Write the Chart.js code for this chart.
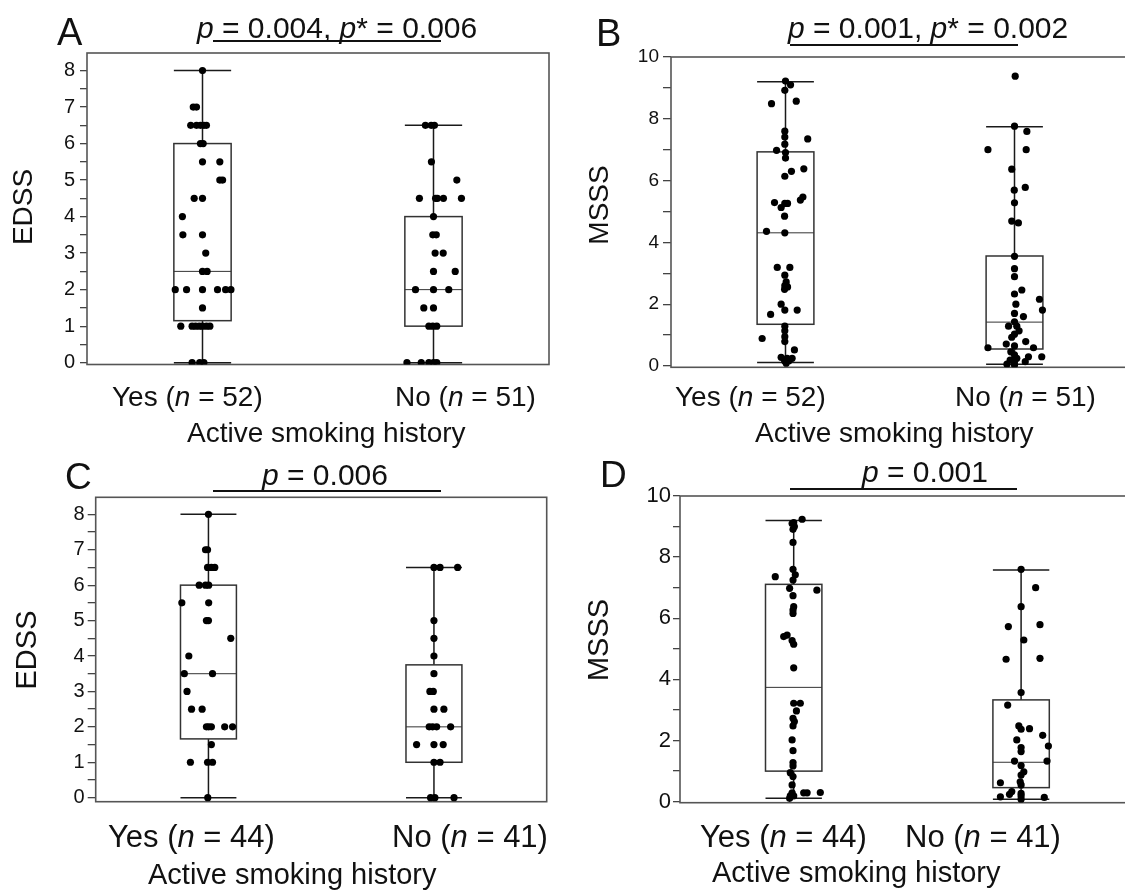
<!DOCTYPE html>
<html>
<head>
<meta charset="utf-8">
<script src="https://cdn.jsdelivr.net/npm/chart.js@4.4.0/dist/chart.umd.min.js"></script>
<style>
  html, body { margin: 0; padding: 0; background: #fff; overflow: hidden; }
  #wrap { position: relative; width: 1125px; height: 890px; overflow: hidden; background: #fff; }
  canvas { position: absolute; left: 0; top: 0; }
</style>
</head>
<body>
<div id="wrap">
  <canvas id="chartA" width="1140" height="890"></canvas>
  <canvas id="chartB" width="1140" height="890"></canvas>
  <canvas id="chartC" width="1140" height="890"></canvas>
  <canvas id="chartD" width="1140" height="890"></canvas>
</div>
<script>
const groups = ["Yes", "No"];
const nTop = [52, 51];
const nBottom = [44, 41];

const edssTicks = [0, 0.5, 1, 1.5, 2, 2.5, 3, 3.5, 4, 4.5, 5, 5.5, 6, 6.5, 7, 7.5, 8];
const edssLabels = [0, 1, 2, 3, 4, 5, 6, 7, 8];
const msssTicks = [0, 1, 2, 3, 4, 5, 6, 7, 8, 9, 10];
const msssLabels = [0, 2, 4, 6, 8, 10];

// box stats per group: [lower whisker, Q1, median, Q3, upper whisker]
const boxA = [[0, 1.15, 2.5, 6, 8], [0, 1, 2, 4, 6.5]];
const boxB = [[0.11, 1.35, 4.31, 6.93, 9.2], [0.06, 0.55, 1.42, 3.56, 7.74]];
const boxC = [[0, 1.66, 3.5, 6, 8], [0, 1, 2, 3.75, 6.5]];
const boxD = [[0.11, 1.0, 3.74, 7.11, 9.2], [0.08, 0.46, 1.29, 3.33, 7.58]];

// points: [score, horizontal jitter in category units]
const yesA = [[8, 0], [7, -0.04], [7, -0.026], [6.5, -0.051], [6.5, -0.026], [6.5, -0.009], [6.5, 0.006], [6.5, 0.017],
  [6, -0.009], [6, 0.003], [5.5, 0], [5.5, 0.075], [5, 0.075], [5, 0.087], [4.5, -0.036], [4.5, 0], [4, -0.087],
  [3.5, -0.085], [3.5, 0], [3, 0.014], [2.5, 0], [2.5, 0.02], [2, -0.118], [2, -0.069], [2, 0], [2, 0.065], [2, 0.1],
  [2, 0.123], [1.5, 0], [1, -0.094], [1, -0.045], [1, -0.03], [1, -0.014], [1, 0], [1, 0.017], [1, 0.032],
  [0, -0.045], [0, -0.012], [0, 0.006]];
const noA = [[6.5, -0.035], [6.5, -0.01], [6.5, 0.004], [5.5, -0.009], [5, 0.101], [4.5, -0.061], [4.5, 0.009],
  [4.5, 0.017], [4.5, 0.043], [4.5, 0.121], [4, 0], [3.5, -0.003], [3.5, 0.012], [3, 0.007], [3, 0.042], [2.5, 0],
  [2.5, 0.094], [2, -0.078], [2, 0], [2, 0.066], [1.5, -0.042], [1.5, 0], [1, -0.02], [1, -0.003], [1, 0.014],
  [0, -0.115], [0, -0.053], [0, -0.02], [0, 0], [0, 0.014]];

const yesB = [[9.22, 0], [9.1, 0.022], [8.92, -0.003], [8.49, -0.061], [8.57, 0.047], [7.6, -0.003], [7.41, -0.003],
  [7.18, -0.003], [7.35, 0.097], [6.98, -0.039], [6.91, 0], [6.73, 0], [6.3, 0.026], [6.14, -0.003], [6.38, 0.08],
  [5.29, -0.048], [5.13, -0.019], [5.26, -0.003], [5.26, 0.009], [5.37, 0.065], [5.47, 0.076], [4.85, -0.004],
  [4.36, -0.083], [4.31, -0.003], [3.19, -0.036], [3.19, 0.019], [2.94, -0.003], [2.72, 0.003], [2.6, -0.003],
  [2.56, 0.009], [2.48, -0.004], [2.0, -0.019], [1.67, -0.065], [1.81, -0.003], [1.81, 0.051], [1.29, -0.003],
  [1.14, -0.003], [0.95, -0.003], [0.79, -0.003], [0.89, -0.102], [0.52, 0.039], [0.28, -0.019], [0.25, 0.007],
  [0.25, 0.029], [0.17, -0.004], [0.17, 0.015], [0.09, 0.003]];
const noB = [[9.38, 0.003], [7.76, 0], [7.59, 0.054], [7.0, -0.116], [7.0, 0.051], [6.37, -0.012], [5.69, -0.001],
  [5.78, 0.047], [5.28, 0], [4.69, -0.012], [4.63, 0.017], [3.55, 0], [3.15, 0], [2.89, 0], [2.46, 0.032], [2.33, 0],
  [2.16, 0.109], [2.0, 0.006], [1.81, 0.122], [1.7, 0], [1.6, 0.039], [1.43, 0], [1.29, -0.026], [1.29, 0.01],
  [1.14, 0.02], [0.93, -0.012], [1.03, 0], [0.59, -0.116], [0.71, -0.036], [0.65, 0], [0.79, 0.049], [0.59, 0.083],
  [0.46, -0.016], [0.36, 0], [0.25, 0.01], [0.3, 0.061], [0.3, 0.119], [0.19, -0.019], [0.14, 0], [0.06, -0.033],
  [0.14, 0.047], [0.03, 0]];

const yesC = [[8, 0], [7, -0.013], [7, -0.004], [6.5, -0.004], [6.5, 0.013], [6.5, 0.028], [6, -0.041], [6, -0.013],
  [6, 0.001], [5.5, -0.118], [5.5, 0.001], [5, -0.009], [5, 0], [4.5, 0.099], [4, -0.087], [3.5, -0.107], [3.5, 0.018],
  [3, -0.095], [2.5, -0.075], [2.5, -0.028], [2, -0.009], [2, 0.001], [2, 0.013], [2, 0.072], [2, 0.107], [1.5, 0.013],
  [1, -0.08], [1, -0.004], [1, 0.018], [0, -0.003]];
const noC = [[6.5, 0], [6.5, 0.027], [6.5, 0.105], [5, 0], [4.5, 0], [4, 0], [3.5, 0], [3, -0.018], [3, -0.003],
  [2.5, 0], [2.5, 0.044], [2, -0.021], [2, -0.006], [2, 0.012], [2, 0.074], [1.5, -0.077], [1.5, 0], [1.5, 0.041],
  [1, 0], [1, 0.027], [0, -0.015], [0, 0.004], [0, 0.089]];

const yesD = [[9.24, 0.037], [9.13, 0], [9.1, -0.007], [9.0, 0.003], [8.91, -0.003], [8.48, -0.003], [7.36, -0.081],
  [7.6, -0.003], [7.42, 0.007], [7.25, -0.003], [6.92, 0.102], [6.98, -0.018], [6.74, -0.003], [6.38, 0], [6.27, -0.003],
  [6.16, -0.003], [5.4, -0.044], [5.45, -0.029], [5.27, -0.007], [5.15, 0], [4.38, 0], [3.22, 0], [3.22, 0.029],
  [2.97, 0.012], [2.73, -0.003], [2.62, 0.003], [2.48, -0.003], [2.02, -0.007], [1.67, -0.003], [1.28, -0.003],
  [1.17, -0.003], [0.95, -0.015], [0.82, -0.003], [0.55, -0.007], [0.29, -0.007], [0.29, 0.044], [0.29, 0.059],
  [0.3, 0.117], [0.19, -0.015], [0.19, 0], [0.11, -0.018]];
const noD = [[7.6, 0], [7.0, 0.064], [6.38, 0], [5.73, -0.056], [5.79, 0.083], [5.29, 0.012], [4.66, -0.066],
  [4.69, 0.083], [3.57, 0], [3.16, -0.059], [2.48, -0.01], [2.37, 0], [2.39, 0.037], [2.17, 0.095], [2.02, -0.019],
  [1.77, 0], [1.64, 0], [1.82, 0.12], [1.33, -0.029], [1.33, 0.114], [1.18, 0], [0.98, 0.012], [0.87, 0],
  [0.65, -0.004], [0.62, -0.091], [0.55, 0], [0.33, -0.041], [0.24, -0.051], [0.27, 0], [0.19, 0], [0.16, -0.091],
  [0.08, 0], [0.14, 0.102]];

const FONT = '"Liberation Sans", Arial, sans-serif';
const W = 1140, H = 890;

function drawRuns(ctx, runs, x, y, size) {
  runs.forEach(([t, italic]) => {
    ctx.font = (italic ? "italic " : "") + size + "px " + FONT;
    ctx.fillText(t, x, y);
    x += ctx.measureText(t).width;
  });
}

const panelPlugin = {
  id: "panel",
  beforeDatasetsDraw(chart, args, opts) {
    const ctx = chart.ctx;
    const a = chart.chartArea;
    const xs = chart.scales.x, ys = chart.scales.y;
    ctx.save();
    ctx.strokeStyle = "#555";
    ctx.lineWidth = 1.6;
    ctx.strokeRect(a.left, a.top, a.right - a.left, a.bottom - a.top);

    opts.box.forEach((b, i) => {
      const cx = xs.getPixelForValue(i);
      const hw = xs.getPixelForValue(i + opts.halfWidth) - cx;
      const [lo, q1, med, q3, hi] = b.map(v => ys.getPixelForValue(v));
      ctx.strokeStyle = "#1a1a1a";
      ctx.lineWidth = 1.5;
      ctx.beginPath();
      ctx.moveTo(cx, lo); ctx.lineTo(cx, q1);
      ctx.moveTo(cx, q3); ctx.lineTo(cx, hi);
      ctx.moveTo(cx - hw, lo); ctx.lineTo(cx + hw, lo);
      ctx.moveTo(cx - hw, hi); ctx.lineTo(cx + hw, hi);
      ctx.stroke();
      ctx.strokeStyle = "#333";
      ctx.strokeRect(cx - hw, q3, 2 * hw, q1 - q3);
      ctx.lineWidth = 1;
      ctx.beginPath();
      ctx.moveTo(cx - hw, med); ctx.lineTo(cx + hw, med);
      ctx.stroke();
    });
    ctx.restore();
  },
  afterDraw(chart, args, opts) {
    const ctx = chart.ctx;
    const t = opts.text;
    ctx.save();
    ctx.fillStyle = "#111";
    ctx.textBaseline = "alphabetic";
    ctx.textAlign = "left";

    ctx.font = t.letter.size + "px " + FONT;
    ctx.fillText(t.letter.label, t.letter.x, t.letter.y);

    drawRuns(ctx, t.p.runs, t.p.x, t.p.y, t.p.size);
    ctx.strokeStyle = "#111";
    ctx.lineWidth = 2;
    ctx.beginPath();
    ctx.moveTo(t.line[0], t.line[2]);
    ctx.lineTo(t.line[1], t.line[2]);
    ctx.stroke();

    groups.forEach((g, i) => {
      const runs = [[g + " (", false], ["n", true], [" = " + opts.n[i] + ")", false]];
      drawRuns(ctx, runs, t.cats.x[i], t.cats.y, t.cats.size);
    });

    ctx.font = t.xTitle.size + "px " + FONT;
    ctx.fillText("Active smoking history", t.xTitle.x, t.xTitle.y);

    ctx.translate(t.yTitle.x, t.yTitle.y);
    ctx.rotate(-Math.PI / 2);
    ctx.textAlign = "center";
    ctx.textBaseline = "middle";
    ctx.font = t.yTitle.size + "px " + FONT;
    ctx.fillText(t.yTitle.label, 0, 0);
    ctx.restore();
  }
};

function makePanel(id, p) {
  const pts = [p.yes, p.no];
  const data = [];
  pts.forEach((list, gi) => list.forEach(([v, j]) => data.push({ x: gi + j, y: v })));

  return new Chart(document.getElementById(id), {
    type: "scatter",
    data: {
      datasets: [{
        data: data,
        backgroundColor: "#000",
        borderWidth: 0,
        pointRadius: 3.6,
        pointHoverRadius: 3.6
      }]
    },
    options: {
      responsive: false,
      animation: false,
      devicePixelRatio: 1,
      events: [],
      layout: {
        padding: { left: 0, top: p.frame.top, right: W - p.frame.right, bottom: H - p.frame.bottom }
      },
      scales: {
        x: { type: "linear", min: -0.5, max: 1.5, display: false },
        y: {
          type: "linear",
          min: p.yMin,
          max: p.yMax,
          afterBuildTicks: s => { s.ticks = p.ticks.map(v => ({ value: v })); },
          afterFit: s => { s.width = p.frame.left; },
          ticks: {
            autoSkip: false,
            callback: v => p.labels.includes(v) ? String(v) : "",
            color: "#111",
            font: { family: FONT, size: p.tickSize },
            padding: p.tickPad
          },
          grid: { drawOnChartArea: false, drawTicks: true, tickLength: p.tickLen, color: "#444", lineWidth: 1.3 },
          border: { display: false }
        }
      },
      plugins: {
        legend: { display: false },
        tooltip: { enabled: false },
        panel: { box: p.box, halfWidth: 0.124, n: p.n, text: p.text }
      }
    },
    plugins: [panelPlugin]
  });
}

makePanel("chartA", {
  yes: yesA, no: noA, box: boxA, n: nTop,
  frame: { left: 87, top: 53, right: 549, bottom: 364.5 },
  yMin: -0.05, yMax: 8.48, ticks: edssTicks, labels: edssLabels,
  tickSize: 20, tickPad: 5, tickLen: 7,
  text: {
    letter: { label: "A", x: 57, y: 45, size: 38 },
    p: { runs: [["p", true], [" = 0.004, ", false], ["p", true], ["* = 0.006", false]], x: 197, y: 38, size: 30 },
    line: [213, 441, 41],
    cats: { x: [112, 395], y: 406, size: 28 },
    xTitle: { x: 187, y: 442, size: 28 },
    yTitle: { label: "EDSS", x: 24, y: 207, size: 28 }
  }
});

makePanel("chartB", {
  yes: yesB, no: noB, box: boxB, n: nTop,
  frame: { left: 671, top: 57, right: 1129, bottom: 367.3 },
  yMin: -0.042, yMax: 10, ticks: msssTicks, labels: msssLabels,
  tickSize: 19, tickPad: 4, tickLen: 8,
  text: {
    letter: { label: "B", x: 596, y: 46, size: 38 },
    p: { runs: [["p", true], [" = 0.001, ", false], ["p", true], ["* = 0.002", false]], x: 788, y: 38, size: 30 },
    line: [790, 1018, 45],
    cats: { x: [675, 955], y: 406, size: 28 },
    xTitle: { x: 755, y: 442, size: 28 },
    yTitle: { label: "MSSS", x: 600, y: 205, size: 28 }
  }
});

makePanel("chartC", {
  yes: yesC, no: noC, box: boxC, n: nBottom,
  frame: { left: 95.7, top: 497.3, right: 546.7, bottom: 801.7 },
  yMin: -0.113, yMax: 8.48, ticks: edssTicks, labels: edssLabels,
  tickSize: 20, tickPad: 3, tickLen: 8,
  text: {
    letter: { label: "C", x: 65, y: 489, size: 37 },
    p: { runs: [["p", true], [" = 0.006", false]], x: 262, y: 485, size: 30 },
    line: [213, 441, 491],
    cats: { x: [108, 392], y: 847, size: 31 },
    xTitle: { x: 148, y: 884, size: 29 },
    yTitle: { label: "EDSS", x: 28, y: 650, size: 29 }
  }
});

makePanel("chartD", {
  yes: yesD, no: noD, box: boxD, n: nBottom,
  frame: { left: 680, top: 496, right: 1134.8, bottom: 802.7 },
  yMin: -0.033, yMax: 10, ticks: msssTicks, labels: msssLabels,
  tickSize: 22, tickPad: 2, tickLen: 7,
  text: {
    letter: { label: "D", x: 600, y: 487, size: 37 },
    p: { runs: [["p", true], [" = 0.001", false]], x: 862, y: 482, size: 30 },
    line: [790, 1017, 489],
    cats: { x: [700, 905], y: 847, size: 31 },
    xTitle: { x: 712, y: 882, size: 29 },
    yTitle: { label: "MSSS", x: 600, y: 640, size: 29 }
  }
});
</script>
</body>
</html>
